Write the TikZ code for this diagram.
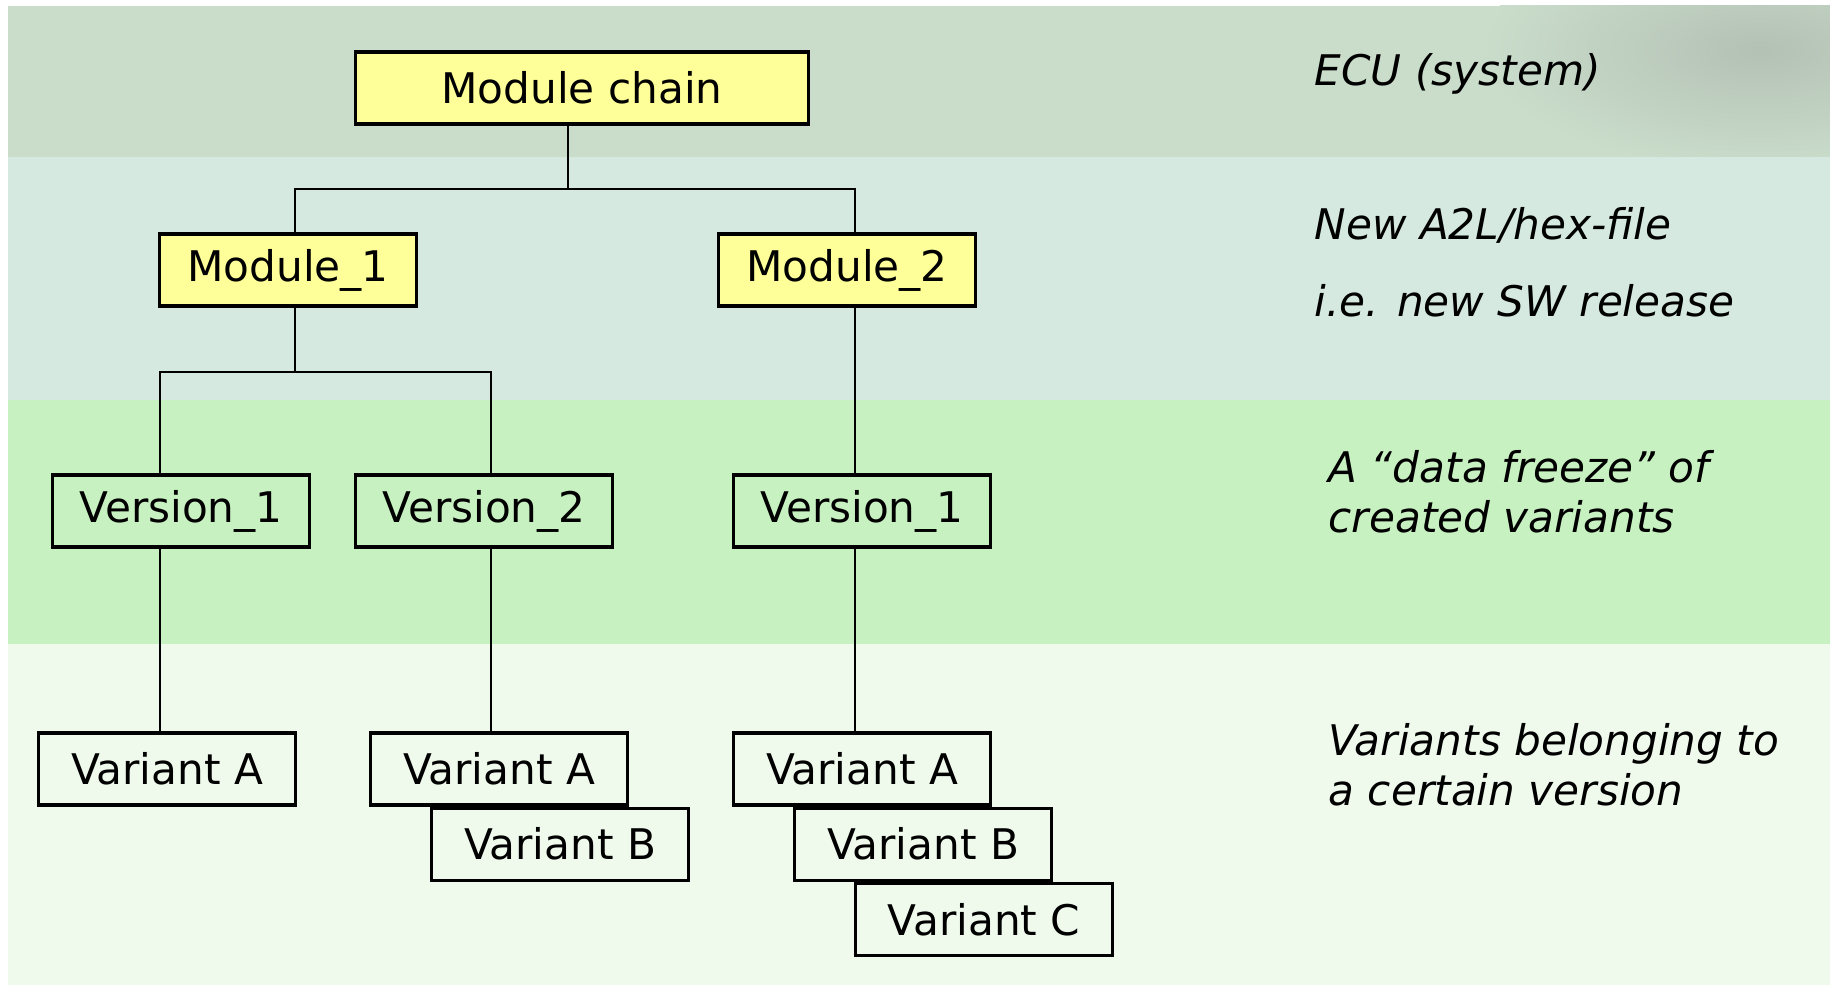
\documentclass[tikz,border=0pt]{standalone}
\usepackage{fontspec}
\setmainfont{DejaVu Sans}
\usetikzlibrary{positioning}
\definecolor{bandA}{HTML}{CADDCB}
\definecolor{bandB}{HTML}{D5E9E1}
\definecolor{bandC}{HTML}{C8F1C2}
\definecolor{bandD}{HTML}{EFFAED}
\definecolor{modyellow}{HTML}{FFFF99}

\begin{document}
\begin{tikzpicture}[x=0.01cm, y=-0.01cm, node distance=0cm,
    box/.style={draw, line width=0.9pt, minimum width=2.57cm, minimum height=0.72cm, inner sep=0pt, font=\fontsize{12}{14}\selectfont},
    mod/.style={box, fill=modyellow},
    note/.style={anchor=west, align=left, inner sep=0pt, font=\fontsize{12}{14.2}\selectfont\itshape},
    link/.style={line width=0.6pt}]
    \useasboundingbox (0,0) rectangle (1830,985);
    % background bands
    \fill[white] (0,0) rectangle (1830,985);
    \fill[bandA] (8,6) rectangle (1830,157);
    \begin{scope}
        \clip (8,6) rectangle (1830,157);
        \shade[inner color=gray!30!bandA, outer color=bandA] (1760,50) ellipse (280 and 120);
    \end{scope}
    \fill[bandB] (8,157) rectangle (1830,400);
    \fill[bandC] (8,400) rectangle (1830,644);
    \fill[bandD] (8,644) rectangle (1830,985);

    \node[mod, minimum width=4.53cm] (chain) at (582,88) {Module chain};
    \node[mod] (mod1) at (288,270) {Module\_1};
    \node[mod] (mod2) at (847,270) {Module\_2};
    \node[box] (ver11) at (181,511) {Version\_1};
    \node[box] (ver12) at (484,511) {Version\_2};
    \node[box] (ver21) at (862,511) {Version\_1};
    \node[box] (var11a) at (167,769) {Variant A};
    \node[box] (var12a) at (499,769) {Variant A};
    \node[box, below=of var12a, xshift=6.1mm] (var12b) {Variant B};
    \node[box] (var21a) at (862,769) {Variant A};
    \node[box, below=of var21a, xshift=6.1mm] (var21b) {Variant B};
    \node[box, below=of var21b, xshift=6.1mm] (var21c) {Variant C};

    \draw[link] ([xshift=-1.4mm]chain.south) -- ++(0,63) -| ([xshift=0.7mm]mod1.north);
    \draw[link] ([xshift=-1.4mm]chain.south) -- ++(0,63) -| ([xshift=0.8mm]mod2.north);
    \draw[link] ([xshift=0.7mm]mod1.south) -- ++(0,64) -| ([xshift=-2.1mm]ver11.north);
    \draw[link] ([xshift=0.7mm]mod1.south) -- ++(0,64) -| ([xshift=0.7mm]ver12.north);
    \draw[link] ([xshift=0.8mm]mod2.south) -- ([xshift=0.8mm]mod2.south |- ver21.north);
    \draw[link] ([xshift=-2.1mm]ver11.south) -- ([xshift=-2.1mm]ver11.south |- var11a.north);
    \draw[link] ([xshift=0.7mm]ver12.south) -- ([xshift=0.7mm]ver12.south |- var12a.north);
    \draw[link] ([xshift=-0.7mm]ver21.south) -- ([xshift=-0.7mm]ver21.south |- var21a.north);

    \node[note] (lblecu) at (1314,74) {ECU (system)};
    \node[note] (lblhex) at (1314,225) {New A2L/hex-file};
    \node[note] (lblsw) at (1314,301) {i.e. new SW release};
    \node[note] (lblfreeze) at (1328,492) {A “data freeze” of\\created variants};
    \node[note] (lblvar) at (1328,765) {Variants belonging to\\a certain version};
\end{tikzpicture}
\end{document}
